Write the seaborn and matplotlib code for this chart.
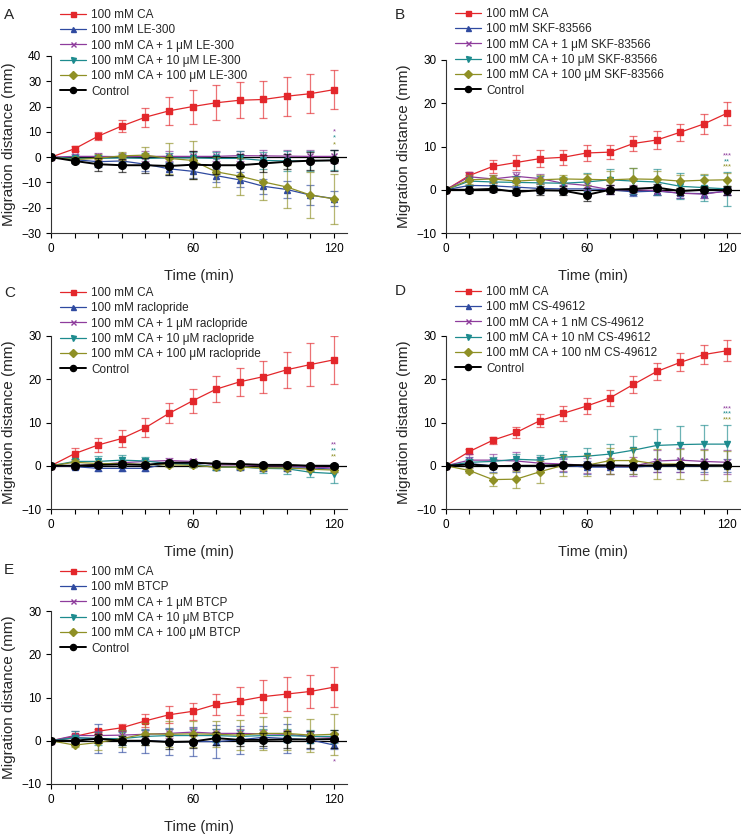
import numpy as np
import pandas as pd
import matplotlib
matplotlib.use("Agg")
import matplotlib.pyplot as plt
import seaborn as sns

sns.set_style("ticks")
plt.rcParams['font.family'] = ['Liberation Sans', 'DejaVu Sans']

# time points (min)
time = [0, 10, 20, 30, 40, 50, 60, 70, 80, 90, 100, 110, 120]

colors = ['#e3272b', '#2f4aa0', '#8e3c9c', '#1d8b8e', '#8f9025', '#000000']
markers = ['s', '^', 'x', 'v', 'D', 'o']

# Panel A: LE-300
a_labels = ['100 mM CA', '100 mM LE-300', '100 mM CA + 1 \u03bcM LE-300',
            '100 mM CA + 10 \u03bcM LE-300', '100 mM CA + 100 \u03bcM LE-300', 'Control']
a_means = [
    [0, 3.3, 8.3, 12.3, 15.8, 18.3, 20.0, 21.5, 22.5, 22.8, 24.1, 25.1, 26.7],
    [0, -1.0, -1.8, -1.5, -2.8, -4.6, -5.6, -7.3, -9.0, -11.5, -12.8, -15.0, -16.4],
    [0, 0.3, 0.3, 0.2, 0.3, 0.3, 0.3, 0.3, 0.6, 0.5, 0.4, 0.3, 0.3],
    [0, -0.5, -0.5, -0.3, -0.5, -0.3, -0.3, -0.5, -0.5, -1.3, -1.5, -1.5, -1.2],
    [0, -1.0, -0.4, 0.5, 0.8, -0.5, -1.3, -5.8, -7.5, -9.8, -11.8, -15.0, -16.5],
    [0, -1.5, -2.8, -3.2, -3.2, -3.5, -3.0, -3.2, -3.2, -2.5, -1.8, -1.4, -1.3],
]
a_errs = [
    [0, 1.0, 1.5, 2.5, 3.7, 5.6, 6.7, 7.0, 7.2, 7.4, 7.7, 7.6, 7.7],
    [0, 1.5, 2.0, 2.0, 2.5, 2.5, 2.5, 2.5, 3.0, 3.0, 3.5, 4.0, 3.0],
    [0, 1.0, 1.5, 1.5, 2.0, 2.0, 2.0, 2.0, 2.0, 2.3, 2.5, 2.5, 2.5],
    [0, 1.0, 1.5, 1.5, 2.0, 2.0, 2.5, 2.5, 3.0, 3.5, 4.0, 4.0, 4.0],
    [0, 1.0, 1.5, 1.5, 3.3, 6.0, 7.5, 6.0, 7.3, 7.3, 8.5, 9.0, 10.0],
    [0, 1.0, 2.5, 2.5, 3.0, 3.5, 5.5, 3.5, 4.3, 3.5, 3.0, 3.5, 4.0],
]
a_stars = ['*', '*', '*']
a_star_y = [9.9, 7.5, 5.0]

# Panel B: SKF-83566
b_labels = ['100 mM CA', '100 mM SKF-83566', '100 mM CA + 1 \u03bcM SKF-83566',
            '100 mM CA + 10 \u03bcM SKF-83566', '100 mM CA + 100 \u03bcM SKF-83566', 'Control']
b_means = [
    [0, 3.3, 5.4, 6.3, 7.2, 7.5, 8.5, 8.7, 10.7, 11.5, 13.3, 15.2, 17.7],
    [0, 1.0, 0.9, 0.6, 0.3, 0.2, 0.2, 0.0, -0.5, -0.3, -0.8, -0.9, -0.3],
    [0, 3.0, 2.5, 3.1, 2.6, 1.5, 1.0, 0.0, 0.0, -0.2, -0.8, -1.0, -0.3],
    [0, 2.0, 1.8, 1.7, 1.6, 1.5, 1.8, 2.3, 2.0, 1.8, 0.8, 0.5, 0.2],
    [0, 2.3, 2.5, 2.0, 2.3, 2.5, 2.4, 2.3, 2.5, 2.4, 2.0, 2.2, 2.3],
    [0, 0.0, 0.2, -0.5, -0.1, -0.2, -1.2, 0.0, 0.2, 0.5, -0.3, 0.0, -0.1],
]
b_errs = [
    [0, 0.8, 1.5, 1.8, 2.0, 1.8, 1.8, 1.7, 1.8, 2.0, 2.0, 2.4, 2.7],
    [0, 1.0, 1.0, 1.0, 1.0, 1.0, 1.0, 1.0, 1.0, 1.0, 1.0, 1.0, 1.0],
    [0, 1.0, 1.0, 1.0, 1.0, 1.0, 1.0, 1.0, 1.0, 1.0, 1.0, 1.0, 1.0],
    [0, 1.0, 1.0, 1.5, 1.5, 1.5, 2.0, 2.5, 3.0, 3.0, 3.0, 3.0, 4.0],
    [0, 1.0, 1.0, 1.0, 1.0, 1.0, 1.3, 2.0, 2.5, 2.0, 1.5, 1.5, 1.5],
    [0, 0.8, 0.8, 0.8, 1.0, 1.0, 1.5, 1.0, 0.7, 0.8, 0.8, 0.8, 1.0],
]
b_stars = ['***', '**', '***']
b_star_y = [7.8, 6.5, 5.2]

# Panel C: raclopride
c_labels = ['100 mM CA', '100 mM raclopride', '100 mM CA + 1 \u03bcM raclopride',
            '100 mM CA + 10 \u03bcM raclopride', '100 mM CA + 100 \u03bcM raclopride', 'Control']
c_means = [
    [0, 2.8, 4.8, 6.3, 8.8, 12.1, 15.0, 17.7, 19.4, 20.6, 22.2, 23.4, 24.5],
    [0, -0.2, -0.6, -0.6, -0.6, 0.6, 0.4, -0.3, -0.3, -0.5, -0.5, -0.5, -0.8],
    [0, 0.0, 0.3, 0.7, 1.0, 1.2, 1.0, 0.2, 0.2, 0.0, 0.0, -0.3, -0.5],
    [0, 1.0, 1.0, 1.3, 1.1, 0.5, 0.3, -0.4, -0.3, -0.6, -0.7, -1.5, -1.8],
    [0, 0.8, 0.5, 0.5, 0.3, 0.2, 0.1, -0.3, -0.3, -0.5, -0.5, -0.8, -1.0],
    [0, 0.0, 0.2, 0.3, 0.2, 0.7, 0.7, 0.5, 0.4, 0.2, 0.2, 0.0, 0.0],
]
c_errs = [
    [0, 1.3, 1.6, 2.0, 2.2, 2.3, 2.8, 3.0, 3.3, 3.7, 4.2, 4.9, 5.6],
    [0, 0.6, 0.6, 0.6, 0.6, 0.6, 0.6, 0.6, 0.6, 0.6, 0.6, 0.6, 0.6],
    [0, 0.5, 0.5, 0.5, 0.5, 0.5, 0.5, 0.5, 0.5, 0.5, 0.5, 0.5, 0.5],
    [0, 0.6, 1.2, 1.2, 1.0, 0.6, 0.5, 0.5, 0.5, 1.0, 1.3, 1.2, 2.3],
    [0, 0.5, 0.5, 0.5, 0.5, 0.5, 0.5, 0.5, 0.5, 0.5, 0.5, 0.5, 0.5],
    [0, 0.5, 0.5, 0.5, 0.5, 0.5, 0.5, 0.5, 0.5, 0.5, 0.5, 0.5, 0.5],
]
c_stars = ['**', '**', '**']
c_star_y = [4.9, 3.5, 2.1]

# Panel D: CS-49612
d_labels = ['100 mM CA', '100 mM CS-49612', '100 mM CA + 1 nM CS-49612',
            '100 mM CA + 10 nM CS-49612', '100 mM CA + 100 nM CS-49612', 'Control']
d_means = [
    [0, 3.3, 5.9, 7.7, 10.4, 12.1, 13.8, 15.7, 18.8, 21.8, 23.9, 25.7, 26.6],
    [0, 0.5, 0.0, 0.0, 0.0, 0.1, -0.3, -0.3, -0.3, 0.0, 0.0, 0.0, 0.0],
    [0, 1.3, 1.3, 1.1, 0.6, 0.4, 0.1, 0.0, -0.1, 1.1, 1.3, 1.0, 0.8],
    [0, 0.8, 1.0, 1.5, 1.3, 2.0, 2.2, 2.7, 3.6, 4.7, 4.9, 5.0, 5.0],
    [0, -1.1, -3.2, -3.1, -1.4, 0.1, 0.1, 1.2, 1.2, 0.4, 0.4, 0.1, 0.0],
    [0, 0.3, -0.1, 0.0, 0.0, 0.2, 0.1, 0.1, 0.0, 0.1, 0.2, 0.1, 0.1],
]
d_errs = [
    [0, 0.5, 0.8, 1.2, 1.5, 1.8, 1.9, 1.8, 2.0, 2.0, 2.1, 2.2, 2.4],
    [0, 1.5, 1.5, 1.5, 1.5, 1.5, 1.5, 1.5, 1.5, 1.5, 1.5, 1.5, 1.5],
    [0, 1.5, 1.5, 2.0, 1.5, 1.5, 1.8, 1.8, 2.2, 2.5, 2.8, 2.8, 2.8],
    [0, 0.8, 1.0, 1.3, 1.3, 1.5, 1.8, 2.3, 3.2, 3.9, 4.3, 4.5, 4.5],
    [0, 0.5, 1.5, 2.0, 2.5, 2.5, 2.5, 3.0, 3.0, 3.5, 3.5, 3.5, 3.5],
    [0, 0.3, 0.3, 0.3, 0.3, 0.3, 0.3, 0.3, 0.3, 0.3, 0.3, 0.3, 0.3],
]
d_stars = ['***', '***', '***']
d_star_y = [13.2, 11.9, 10.6]

# Panel E: BTCP
e_labels = ['100 mM CA', '100 mM BTCP', '100 mM CA + 1 \u03bcM BTCP',
            '100 mM CA + 10 \u03bcM BTCP', '100 mM CA + 100 \u03bcM BTCP', 'Control']
e_means = [
    [0, 1.0, 2.2, 3.0, 4.6, 6.0, 6.8, 8.4, 9.2, 10.2, 10.8, 11.4, 12.4],
    [0, 0.7, 0.5, 0.0, 0.0, -0.2, -0.2, -0.2, 0.2, 0.8, 0.5, 0.2, -1.0],
    [0, 1.2, 1.2, 1.3, 1.5, 1.7, 2.0, 1.7, 1.7, 1.6, 1.5, 1.0, 0.8],
    [0, 0.7, 0.5, 0.5, 1.0, 1.2, 1.2, 1.2, 1.0, 1.2, 1.2, 1.0, 1.0],
    [0, -1.0, -0.4, 0.5, 1.6, 1.5, 1.6, 1.5, 1.3, 1.7, 1.7, 1.3, 1.5],
    [0, 0.0, 0.5, 0.0, 0.0, -0.3, -0.2, 0.6, 0.2, 0.2, 0.3, 0.3, 0.4],
]
e_errs = [
    [0, 0.5, 0.6, 0.8, 1.5, 2.0, 2.0, 2.5, 3.2, 3.8, 3.9, 3.9, 4.6],
    [0, 0.5, 3.3, 2.5, 2.8, 3.2, 3.3, 3.8, 3.3, 2.5, 3.3, 2.0, 0.8],
    [0, 1.0, 1.0, 1.0, 1.0, 1.0, 1.0, 1.0, 1.0, 1.0, 1.0, 1.0, 1.0],
    [0, 1.5, 1.5, 1.5, 1.5, 1.5, 1.5, 1.5, 1.5, 1.5, 1.5, 1.5, 1.5],
    [0, 0.5, 1.8, 2.0, 2.5, 3.0, 3.0, 3.0, 3.5, 3.8, 3.8, 3.8, 4.8],
    [0, 0.5, 1.0, 1.0, 1.0, 1.5, 1.5, 1.5, 1.5, 1.5, 2.0, 2.0, 2.0],
]
e_stars = ['*']
e_star_y = [-4.9]

W, H = 741, 834
fig = plt.figure(figsize=(W / 100, H / 100), dpi=100)


def px_axes(left, top, right, bottom):
    return fig.add_axes([left / W, 1 - bottom / H, (right - left) / W, (bottom - top) / H])


panels = [
    # letter, labels, means, errs, stars, star_y, ylim, axes px box, letter px, legend px
    ('A', a_labels, a_means, a_errs, a_stars, a_star_y, (-30, 40), (51, 56, 347, 233), (4, 8), (60, 9)),
    ('B', b_labels, b_means, b_errs, b_stars, b_star_y, (-10, 30), (446, 60, 740, 233), (395, 8), (455, 8)),
    ('C', c_labels, c_means, c_errs, c_stars, c_star_y, (-10, 30), (51, 336, 347, 509), (4, 286), (60, 287)),
    ('D', d_labels, d_means, d_errs, d_stars, d_star_y, (-10, 30), (446, 336, 740, 509), (395, 284), (455, 286)),
    ('E', e_labels, e_means, e_errs, e_stars, e_star_y, (-10, 30), (51, 611, 347, 784), (4, 563), (60, 566)),
]

for letter, labels, means, errs, stars, star_y, ylim, box, lpos, legpos in panels:
    ax = px_axes(*box)
    ax.axhline(0, color='black', lw=0.9, zorder=1)
    for i in range(6):
        df = pd.DataFrame({'time': time, 'value': means[i]})
        ax.errorbar(time, means[i], yerr=errs[i], fmt='none', ecolor=colors[i],
                    alpha=0.65, elinewidth=0.9, capsize=2.8, capthick=0.9, zorder=2 + i)
        is_ctrl = i == 5
        sns.lineplot(data=df, x='time', y='value', ax=ax, color=colors[i],
                     marker=markers[i], markersize=5.5 if is_ctrl else 4.5,
                     markeredgecolor=colors[i], markeredgewidth=1.0,
                     lw=1.4 if is_ctrl else 0.9, label=labels[i], zorder=3 + i)
    for j, s in enumerate(stars):
        ax.text(120, star_y[j], s, color=colors[2 + j], fontsize=5.5,
                ha='center', va='center')

    ax.set_xlim(0, 125.5)
    ax.set_ylim(*ylim)
    ax.set_xticks([0, 60, 120])
    ax.set_xticks(np.arange(0, 121, 10), minor=True)
    ax.set_yticks(np.arange(ylim[0], ylim[1] + 1, 10))
    ax.tick_params(axis='both', which='both', direction='out', length=3.5, width=0.8,
                   labelsize=8.5, colors='black')
    ax.tick_params(axis='x', which='minor', length=3.5)
    ax.spines['top'].set_visible(False)
    ax.spines['right'].set_visible(False)
    for sp in ['left', 'bottom']:
        ax.spines[sp].set_linewidth(0.8)
        ax.spines[sp].set_color('#333333')
    ax.set_xlabel('Time (min)', fontsize=10.5, labelpad=10)
    ax.set_ylabel('Migration distance (mm)', fontsize=11, labelpad=4)

    ax.legend(loc='upper left', bbox_to_anchor=(legpos[0] / W, 1 - legpos[1] / H),
              bbox_transform=fig.transFigure, frameon=False, fontsize=8.5,
              handlelength=2.2, handletextpad=0.45, labelspacing=0.28,
              borderpad=0, borderaxespad=0, markerscale=0.8)

    fig.text(lpos[0] / W, 1 - lpos[1] / H, letter, fontsize=11, ha='left', va='top')

fig.savefig('out.png', dpi=100)
